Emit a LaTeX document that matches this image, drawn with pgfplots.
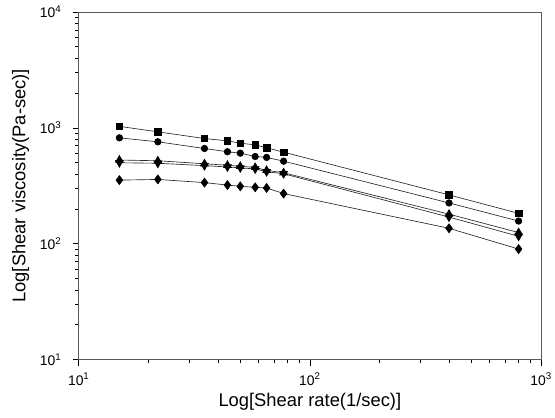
\documentclass[border=0pt]{standalone}
\usepackage{pgfplots}
\pgfplotsset{compat=1.18}
\usepackage{fontspec}
\setmainfont{Liberation Sans}

\begin{document}
\begin{tikzpicture}
\begin{axis}[
    xmode=log, ymode=log,
    scale only axis,
    width=464bp, height=349bp,
    xmin=10, xmax=1000,
    ymin=10, ymax=10000,
    xtick={10,100,1000},
    xticklabels={10\textsuperscript{1},10\textsuperscript{2},10\textsuperscript{3}},
    ytick={10,100,1000,10000},
    yticklabels={10\textsuperscript{1},10\textsuperscript{2},10\textsuperscript{3},10\textsuperscript{4}},
    tick label style={font=\fontsize{14}{16}\selectfont},
    yticklabel style={xshift=-8bp},
    xticklabel style={yshift=-4bp},
    xlabel={Log[Shear rate(1/sec)]},
    ylabel={Log[Shear viscosity(Pa-sec)]},
    label style={font=\fontsize{18.5}{20}\selectfont},
    xlabel style={yshift=-1bp},
    ylabel style={yshift=4bp},
    tick align=outside,
    xtick pos=bottom, ytick pos=left,
    major tick length=6bp, minor tick length=3.5bp,
    axis line style={black!65, line width=0.8pt},
    every tick/.style={black, line width=0.7pt},
    every axis plot/.append style={black!85, line width=0.65pt},
]

% squares
\addplot[mark=square*, mark size=3.3pt, mark options={black}]
    coordinates {
    (15, 1030) (22, 924) (35, 809) (44, 773) (50, 737) (58, 714) (65, 673) (77, 617)
    (400, 264) (800, 183)
    };

% circles
\addplot[mark=*, mark size=3.3pt, mark options={black}]
    coordinates {
    (15, 820) (22, 758) (35, 664) (44, 622) (50, 605) (58, 566) (65, 556) (77, 516)
    (400, 225) (800, 157)
    };

% triangles up
\addplot[mark=triangle*, mark size=4.5pt, mark options={black}]
    coordinates {
    (15, 528) (22, 520) (35, 490) (44, 476) (50, 466) (58, 456) (65, 430) (77, 410)
    (400, 180) (800, 125)
    };

% triangles down
\addplot[mark=triangle*, mark size=4.5pt, mark options={black, rotate=180}]
    coordinates {
    (15, 500) (22, 495) (35, 472) (44, 460) (50, 452) (58, 442) (65, 418) (77, 402)
    (400, 170) (800, 116)
    };

% diamonds
\addplot[mark=diamond*, mark size=4.5pt, mark options={black}]
    coordinates {
    (15, 354) (22, 359) (35, 337) (44, 321) (50, 313) (58, 307) (65, 303) (77, 271)
    (400, 136) (800, 90)
    };
\end{axis}
% page margins as in the reference
\path (current axis.south west) ++(-79bp,-58bp);
\path (current axis.north east) ++(12bp,12bp);
\end{tikzpicture}
\end{document}
